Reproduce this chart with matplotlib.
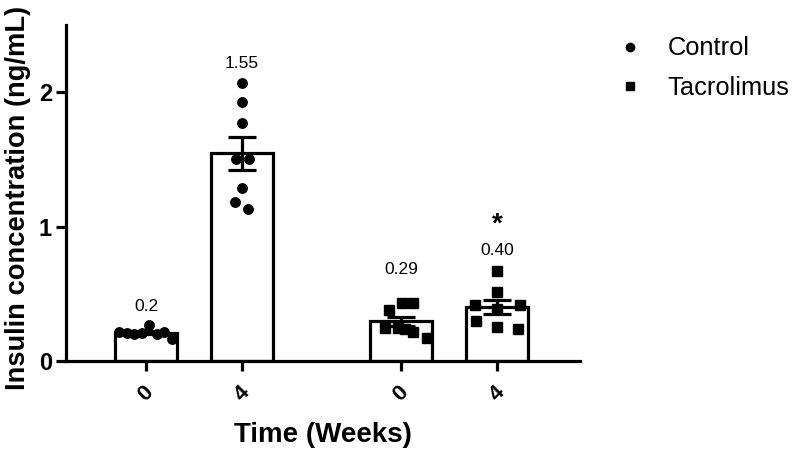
import numpy as np
import matplotlib
matplotlib.use("Agg")
import matplotlib.pyplot as plt
from matplotlib.lines import Line2D

plt.rcParams['font.family'] = ['Liberation Sans', 'DejaVu Sans']

# ---- data ----
groups = ["Control", "Tacrolimus"]
week_labels = ["0", "4", "0", "4"]
bar_labels = ["0.2", "1.55", "0.29", "0.40"]
control_w0 = [0.213, 0.21, 0.20, 0.21, 0.268, 0.20, 0.215, 0.164]
control_w4 = [2.065, 1.93, 1.77, 1.505, 1.505, 1.29, 1.18, 1.13]
tacro_w0 = [0.38, 0.43, 0.43, 0.245, 0.245, 0.24, 0.215, 0.17]
tacro_w4 = [0.67, 0.515, 0.42, 0.42, 0.39, 0.30, 0.255, 0.24]
series = [control_w0, control_w4, tacro_w0, tacro_w4]
markers = ["o", "o", "s", "s"]
significance = ["", "", "", "*"]

# ---- layout ----
xpos = [0, 1, 2.656, 3.656]
jitter = [
    [-0.28, -0.20, -0.13, -0.04, 0.03, 0.11, 0.19, 0.27],
    [0.0, 0.0, 0.0, -0.06, 0.07, 0.0, -0.07, 0.06],
    [-0.13, 0.01, 0.12, -0.17, -0.03, 0.04, 0.12, 0.27],
    [0.0, 0.0, -0.23, 0.24, 0.0, -0.22, 0.0, 0.22],
]
label_offsets = [13, 14.5, 24, 15]
star_offset = 33

fig = plt.figure(figsize=(8, 4.51), dpi=100)
ax = fig.add_axes([0.0825, 0.1996, 0.6425, 0.745])

for i, vals in enumerate(series):
    v = np.array(vals)
    m = v.mean()
    sem = v.std(ddof=1) / np.sqrt(len(v))
    ax.bar(xpos[i], m, width=0.65, color="white", edgecolor="black",
           linewidth=2.3, zorder=1)
    ax.errorbar(xpos[i], m, yerr=sem, fmt="none", ecolor="black",
                elinewidth=2.3, capsize=10, capthick=2.3, zorder=3)
    xs = xpos[i] + np.array(jitter[i])
    ax.plot(xs, v, linestyle="none", marker=markers[i], color="black",
            markersize=6.8 if markers[i] == "o" else 7.2, zorder=4)
    ax.annotate(bar_labels[i], (xpos[i], v.max()), xytext=(0, label_offsets[i]),
                textcoords="offset points", ha="center", va="center",
                fontsize=12.5)
    if significance[i]:
        ax.annotate(significance[i], (xpos[i], v.max()),
                    xytext=(0, star_offset),
                    textcoords="offset points", ha="center", va="center",
                    fontsize=20, fontweight="bold")

ax.set_xlim(-0.833, 4.52)
ax.set_ylim(0, 2.5)
ax.set_yticks([0, 1, 2])
ax.set_yticklabels(["0", "1", "2"], fontsize=17, fontweight="bold")
ax.set_xticks(xpos)
ax.set_xticklabels(week_labels, fontsize=16, fontweight="bold",
                   rotation=45, ha="center", va="top")
for s in ["top", "right"]:
    ax.spines[s].set_visible(False)
for s in ["left", "bottom"]:
    ax.spines[s].set_linewidth(2.3)
ax.tick_params(axis="both", width=2.3, length=7, direction="out", pad=8)
ax.tick_params(axis="y", pad=3)

ax.set_ylabel("Insulin concentration (ng/mL)", fontsize=19.6, fontweight="bold")
ax.yaxis.set_label_coords(-0.068, 0.485)
ax.set_xlabel("Time (Weeks)", fontsize=20, fontweight="bold", labelpad=12)

handles = [
    Line2D([], [], linestyle="none", marker="o", color="black", markersize=6),
    Line2D([], [], linestyle="none", marker="s", color="black", markersize=6),
]
fig.legend(handles, groups, loc="upper left", bbox_to_anchor=(0.7425, 0.97),
           frameon=False, fontsize=18.3, handletextpad=1.0, labelspacing=0.6,
           handlelength=1.0)

fig.savefig("out.png", dpi=100, facecolor="white")
